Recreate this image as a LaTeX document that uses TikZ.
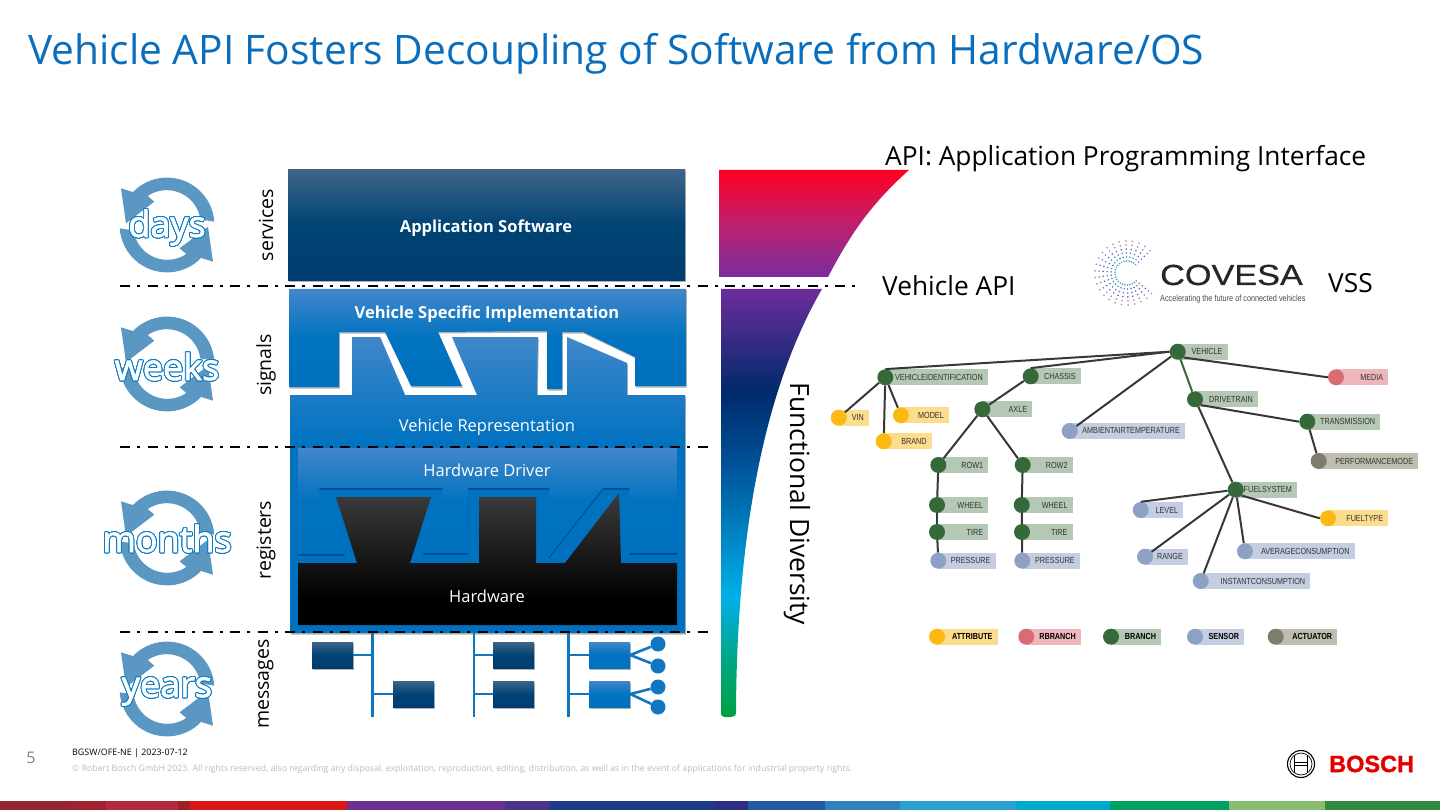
\documentclass[tikz,border=0pt]{standalone}
\usepackage{fontspec}
\usepackage[copies]{contour}
\usetikzlibrary{shadows}
\setmainfont{Open Sans}
\newfontfamily\vssfont[FakeStretch=0.82]{Liberation Sans}
\newfontfamily\covesafont[FakeStretch=1.18,FakeBold=0.6]{Liberation Sans}
\newfontfamily\boschfont[FakeBold=1.4]{Liberation Sans Bold}
\newfontfamily\cyclefont[FakeBold=2]{Open Sans}
\contournumber{32}
\contourlength{0.9pt}
\definecolor{titleblue}{HTML}{0A6EBD}
\definecolor{ringblue}{HTML}{5B97C3}
\definecolor{wordblue}{HTML}{0F7EC3}
\definecolor{busblue}{HTML}{0F76BF}
\definecolor{vssbr}{HTML}{36693A}
\definecolor{vssbrbg}{HTML}{B5C7B5}
\definecolor{vssat}{HTML}{FDB913}
\definecolor{vssatbg}{HTML}{FCDC8D}
\definecolor{vssrb}{HTML}{DB6B72}
\definecolor{vssrbbg}{HTML}{EEB7BC}
\definecolor{vssse}{HTML}{8DA1C5}
\definecolor{vsssebg}{HTML}{C4CEE0}
\definecolor{vssac}{HTML}{7E7D6C}
\definecolor{vssacbg}{HTML}{BEBDB0}
\definecolor{navya}{HTML}{3F6488}
\definecolor{navyb}{HTML}{004374}
\definecolor{navyc}{HTML}{003C70}
\definecolor{bluea}{HTML}{4187CA}
\definecolor{blueb}{HTML}{0072C0}
\definecolor{bluec}{HTML}{0070BD}
\definecolor{greya}{HTML}{3C3C3C}
\definecolor{funa}{HTML}{FF0020}
\definecolor{funb}{HTML}{BE206E}
\definecolor{func}{HTML}{7A2D9E}
\definecolor{fund}{HTML}{6C2D9C}
\definecolor{fune}{HTML}{002A6C}
\definecolor{funf}{HTML}{004F96}
\definecolor{fung}{HTML}{00B0E8}
\definecolor{funh}{HTML}{00A68A}
\definecolor{funi}{HTML}{00A040}
\pgfdeclareverticalshading{navygrad}{100bp}{color(0bp)=(navyc);color(25bp)=(navyc);color(50bp)=(navyb);color(75bp)=(navya);color(100bp)=(navya)}
\pgfdeclareverticalshading{bluegrad}{100bp}{color(0bp)=(bluec);color(50bp)=(blueb);color(75bp)=(bluea);color(100bp)=(bluea)}
\pgfdeclareverticalshading{repgrad}{100bp}{color(0bp)=(bluec);color(57bp)=(blueb);color(75bp)=(bluea);color(100bp)=(bluea)}
\pgfdeclareverticalshading{blackgrad}{100bp}{color(0bp)=(black);color(35bp)=(black);color(75bp)=(greya);color(100bp)=(greya)}
\pgfdeclareverticalshading{redgrad}{100bp}{color(0bp)=(func);color(25bp)=(func);color(50bp)=(funb);color(75bp)=(funa);color(100bp)=(funa)}
\pgfdeclareverticalshading{rainbowgrad}{100bp}{color(0bp)=(funi);color(25bp)=(funi);color(32bp)=(funh);color(39bp)=(fung);color(55bp)=(funf);color(63bp)=(fune);color(75bp)=(fund);color(100bp)=(fund)}
\newcommand\vssitem[6]{
    \fill[vss#6bg] (#2,#3-8) rectangle (#4,#3+8);
    \node[vssdot,fill=vss#6] (#1) at (#2,#3) {};
    \node[vsstext,anchor=east] (#1t) at (#4-5,#3) {#5};
}
\begin{document}
\begin{tikzpicture}[x=1pt,y=-1pt]
    \tikzset{
        softshadow/.style={drop shadow={shadow xshift=0.8pt,shadow yshift=-1.5pt,fill=black,opacity=.3}},
        bodytext/.style={text=white,font=\fontsize{16.5}{20}\selectfont},
        boldtext/.style={text=white,font=\fontsize{16.5}{20}\selectfont\bfseries},
        sidetext/.style={rotate=90,font=\fontsize{19.5}{22}\selectfont},
        bigtext/.style={font=\fontsize{26.3}{30}\selectfont},
        cycleword/.style={text=white,font=\cyclefont\fontsize{36}{38}\selectfont},
        dashline/.style={line width=2.3pt,dash pattern=on 10pt off 7pt on 3pt off 7.5pt},
        navybox/.style={shading=navygrad,minimum width=41pt,minimum height=26pt,inner sep=0pt,softshadow},
        bluebox/.style={shading=bluegrad,minimum width=41pt,minimum height=26pt,inner sep=0pt,softshadow},
        busline/.style={busblue,line width=2.6pt},
        busdot/.style={circle,fill=busblue,minimum size=15pt,inner sep=0pt},
        vssdot/.style={circle,minimum size=16pt,inner sep=0pt},
        vsstext/.style={inner sep=0pt,text=black!80,font=\vssfont\fontsize{8.8}{9}\selectfont},
        vssline/.style={black!78,line width=2pt},
        cyclearrows/.pic={
            \begin{scope}[x=1pt,y=1pt]
                \foreach \rot in {0,180} {
                    \fill[ringblue,rotate=\rot] (4:47.4) arc (4:136:47.4) -- (-46,36.7) -- (-41,1.7)
                        -- (-12.7,23.3) -- (-19.3,29) arc (124:8:34) -- cycle;
                }
            \end{scope}
        },
    }
    \useasboundingbox (0,0) rectangle (1440,810);
    % outlines of the layers
    \def\apppath{(288,170) rectangle (685,281)}
    \def\vsipath{(289,289) -- (686,289) -- (686,386) -- (635,386) -- (635,357) -- (583,332) -- (562,332) -- (562,389) -- (547,389) -- (547,331) -- (438,332) -- (462,386) -- (411,386) -- (385,332) -- (339,332) -- (339,387) -- (289,387) -- cycle}
    \def\reppath{(290,395) -- (352,395) -- (352,337) -- (380,337) -- (405,395) -- (477,395) -- (452,337) -- (538,337) -- (537,395) -- (567,395) -- (567,337) -- (627,363) -- (627,395) -- (685,395) -- (685,633) -- (290,633) -- cycle}
    \def\drvpath{(298,448) -- (677,448) -- (677,553) -- (629,553) -- (629,488) -- (603,488) -- (549,557) -- (549,488) -- (468,488) -- (468,553) -- (423,553) -- (443,488) -- (319,488) -- (345,554) -- (298,554) -- cycle}
    \def\hwpath{(298,563) -- (357,563) -- (336,497) -- (431,497) -- (410,563) -- (479,563) -- (479,497) -- (536,497) -- (536,563) -- (565,563) -- (619,493) -- (621,563) -- (677,563) -- (677,625) -- (298,625) -- cycle}

    % layer stack
    \shade[shading=navygrad,softshadow] \apppath;
    \shade[shading=repgrad,softshadow] \reppath;
    \shade[shading=bluegrad,softshadow] \vsipath;
    \shade[shading=bluegrad,drop shadow={shadow xshift=0pt,shadow yshift=-1.5pt,fill=black!70!blue,opacity=.4}] \drvpath;
    \shade[shading=blackgrad] \hwpath;
    \node[boldtext] (apptext) at (486,228) {Application Software};
    \node[boldtext] (vsitext) at (487,314) {Vehicle Specific Implementation};
    \node[bodytext] (reptext) at (487,427) {Vehicle Representation};
    \node[bodytext] (drvtext) at (487,470) {Hardware Driver};
    \node[bodytext] (hwtext) at (487,596) {Hardware};

    \node[sidetext] (services) at (266,225) {services};
    \node[sidetext] (signals) at (266,365) {signals};
    \node[sidetext] (registers) at (266,540) {registers};
    \node[sidetext] (messages) at (266,684) {messages};

    % cycles
    \foreach \cname/\cx/\cy/\wy/\cword in {cdays/167/225/228/days,cweeks/167/364/367/weeks,cmonths/167/538/539/months,cyears/167/689/692/years} {
        \pic at (\cx,\cy) {cyclearrows};
        \node[cycleword] (\cname) at (\cx,\wy) {\contour{wordblue}{\cword}};
    }

    % network below the stack
    \foreach \bname/\bx in {busa/372.5,busb/474,busc/568.7} {
        \coordinate (\bname top) at (\bx,632);
        \coordinate (\bname end) at (\bx,717);
        \draw[busline] (\bname top) -- (\bname end);
    }
    \node[navybox] (ecua) at (332.5,655) {};
    \node[navybox] (ecub) at (413.5,694) {};
    \node[navybox] (ecuc) at (513.5,655) {};
    \node[navybox] (ecud) at (513.5,694) {};
    \node[bluebox] (ecue) at (609.5,655) {};
    \node[bluebox] (ecuf) at (609.5,694) {};
    \node[busdot] (dota) at (658,644) {};
    \node[busdot] (dotb) at (658,666) {};
    \node[busdot] (dotc) at (658,687) {};
    \node[busdot] (dotd) at (658,707) {};
    \draw[busline] (ecua.east) -- (ecua.east -| busatop);
    \draw[busline] (ecub.west) -- (ecub.west -| busatop);
    \draw[busline] (ecuc.west) -- (ecuc.west -| busbtop);
    \draw[busline] (ecud.west) -- (ecud.west -| busbtop);
    \draw[busline] (ecue.west) -- (ecue.west -| busctop);
    \draw[busline] (ecuf.west) -- (ecuf.west -| busctop);
    \draw[busline] (dota) -- (ecue.east) -- (dotb);
    \draw[busline] (dotc) -- (ecuf.east) -- (dotd);

    % funnel
    \shade[shading=redgrad] (719,170) -- (909,170) .. controls (870,205) and (850,235) .. (828,277) -- (719,277) -- cycle;
    \shade[shading=rainbowgrad] (721,289) -- (822,289) .. controls (775,370) and (737,500) .. (736,712) .. controls (736,716) and (734,717) .. (731,717) -- (725,717) .. controls (722,717) and (721,716) .. (721,712) -- cycle;
    \node[rotate=-90,font=\fontsize{26.5}{28}\selectfont] (diversity) at (797,504) {Functional Diversity};

    % borders between the layers
    \coordinate (bordera) at (120,286);
    \coordinate (borderb) at (855,286);
    \coordinate (borderc) at (120,447);
    \coordinate (borderd) at (708,447);
    \coordinate (bordere) at (120,632);
    \coordinate (borderf) at (708,632);
    \draw[dashline] (bordera) -- (borderb);
    \draw[dashline] (borderc) -- (borderd);
    \draw[dashline] (bordere) -- (borderf);

    % texts on top
    \node[anchor=west,text=titleblue,inner sep=0pt,font=\fontsize{40.7}{44}\selectfont] (title) at (28,54) {Vehicle API Fosters Decoupling of Software from Hardware/OS};
    \node[bigtext,anchor=west,inner sep=0pt] (apiname) at (885,159) {API: Application Programming Interface};
    \node[bigtext,anchor=west,inner sep=0pt] (vapi) at (882,286) {Vehicle API};
    \node[bigtext,anchor=west,inner sep=0pt] (vss) at (1328,283) {VSS};

    % covesa logo
    \foreach \a in {40,52,...,320} {
        \foreach \r/\cc in {12/teal,16/teal!70!blue,20/blue!50!teal,24/violet!60!blue,28/violet!50!gray,32/violet!35!gray} {
            \fill[\cc!70] (1127,273) ++(\a:\r) circle (0.9pt);
        }
    }
    \node[anchor=west,inner sep=0pt,text=black!85,font=\covesafont\fontsize{29}{30}\selectfont] (covesa) at (1160,275) {COVESA};
    \node[anchor=west,inner sep=0pt,text=black!70,font=\vssfont\fontsize{8.9}{9}\selectfont] (covesasub) at (1160,299) {Accelerating the future of connected vehicles};

    % vss tree
    \vssitem{vehicle}{1177.7}{351.7}{1227.7}{VEHICLE}{br}
    \vssitem{vid}{885.3}{377.3}{988}{VEHICLEIDENTIFICATION}{br}
    \vssitem{vin}{838.7}{417.7}{869}{VIN}{at}
    \vssitem{model}{901}{415.3}{949}{MODEL}{at}
    \vssitem{brand}{883.7}{441.3}{931.7}{BRAND}{at}
    \vssitem{chassis}{1030.7}{376.3}{1081}{CHASSIS}{br}
    \vssitem{axle}{982.3}{409.3}{1032.3}{AXLE}{br}
    \vssitem{ambient}{1069.7}{431}{1185}{AMBIENTAIRTEMPERATURE}{se}
    \vssitem{rowa}{938.3}{465}{988.3}{ROW1}{br}
    \vssitem{rowb}{1022.7}{465}{1072.7}{ROW2}{br}
    \vssitem{wheela}{937}{505}{988.3}{WHEEL}{br}
    \vssitem{wheelb}{1021.7}{505}{1072.7}{WHEEL}{br}
    \vssitem{tirea}{937}{532}{988.3}{TIRE}{br}
    \vssitem{tireb}{1022}{532}{1072.7}{TIRE}{br}
    \vssitem{pressa}{938.3}{560.7}{995.7}{PRESSURE}{se}
    \vssitem{pressb}{1022.3}{560.7}{1080}{PRESSURE}{se}
    \vssitem{media}{1336}{377.3}{1388.3}{MEDIA}{rb}
    \vssitem{drive}{1195}{399.3}{1258}{DRIVETRAIN}{br}
    \vssitem{trans}{1307.3}{421.7}{1380.3}{TRANSMISSION}{br}
    \vssitem{perf}{1318.7}{461}{1418.3}{PERFORMANCEMODE}{ac}
    \vssitem{fuel}{1235.7}{489.7}{1297}{FUELSYSTEM}{br}
    \vssitem{level}{1140.7}{510}{1183.3}{LEVEL}{se}
    \vssitem{ftype}{1328}{518.3}{1388.3}{FUELTYPE}{at}
    \vssitem{range}{1145}{556.7}{1188}{RANGE}{se}
    \vssitem{avg}{1245}{551.3}{1354.7}{AVERAGECONSUMPTION}{se}
    \vssitem{inst}{1200.7}{581}{1310.3}{INSTANTCONSUMPTION}{se}
    \foreach \from/\to in {vehicle.west/vid.north,vehicle.west/chassis.north,vehicle/ambient,vehicle.south east/media.west,vid/vin,vid/brand,vid/model,chassis/axle,axle/rowa,axle/rowb,rowa/wheela,wheela/tirea,tirea/pressa,rowb/wheelb,wheelb/tireb,tireb/pressb,drive.south east/trans.west,drive/fuel,trans/perf,fuel/level.north,fuel/range,fuel/inst,fuel/avg,fuel.south east/ftype.west} {
        \draw[vssline] (\from) -- (\to);
    }
    \draw[vssline,vssbr] (vehicle) -- (drive);

    % legend
    \begin{scope}[vsstext/.append style={text=black,font=\vssfont\bfseries\fontsize{8.8}{9}\selectfont}]
        \vssitem{legat}{937}{636.7}{997.7}{ATTRIBUTE}{at}
        \vssitem{legrb}{1026.3}{636.7}{1081}{RBRANCH}{rb}
        \vssitem{legbr}{1111}{636.7}{1161.3}{BRANCH}{br}
        \vssitem{legse}{1195}{636.7}{1244.3}{SENSOR}{se}
        \vssitem{legac}{1275.7}{636.7}{1337.3}{ACTUATOR}{ac}
    \end{scope}

    % footer
    \node[inner sep=0pt,text=black!50,font=\fontsize{16}{18}\selectfont] (pageno) at (31,758) {5};
    \node[anchor=west,inner sep=0pt,font=\fontsize{8.9}{10}\selectfont] (docref) at (72,753) {BGSW/OFE-NE | 2023-07-12};
    \node[anchor=west,inner sep=0pt,text=black!27,font=\fontsize{8.76}{10}\selectfont] (copyr) at (72,769) {© Robert Bosch GmbH 2023. All rights reserved, also regarding any disposal, exploitation, reproduction, editing, distribution, as well as in the event of applications for industrial property rights.};
    \foreach \xa/\xb/\hue in {0/67/962433,67/106/A0222F,106/178/B42840,178/190/A01E26,190/347/DA1616,347/505/6A318C,505/550/4B3388,550/715/1C3A88,715/748/2C2E83,748/825/2459A6,825/900/2F82BC,900/1016/2BA0D0,1016/1110/00A8D0,1110/1229/00A060,1229/1325/8BBD6E,1325/1440/2F8B40} {
        \definecolor{bandcol}{HTML}{\hue}
        \fill[bandcol] (\xa,801) rectangle (\xb,810);
    }

    % bosch logo
    \draw[line width=1.1pt] (1301,764) circle (13.5);
    \draw[line width=0.7pt] (1301,764) circle (11);
    \draw[line width=1.1pt] (1294.5,755) -- (1294.5,773) (1307.5,755) -- (1307.5,773);
    \draw[line width=0.8pt] (1294.5,762.5) -- (1307.5,762.5) (1294.5,765.5) -- (1307.5,765.5);
    \node[anchor=west,inner sep=0pt,text=red!90!black,font=\boschfont\fontsize{23.5}{26}\selectfont] (bosch) at (1329,764) {BOSCH};
\end{tikzpicture}
\end{document}
